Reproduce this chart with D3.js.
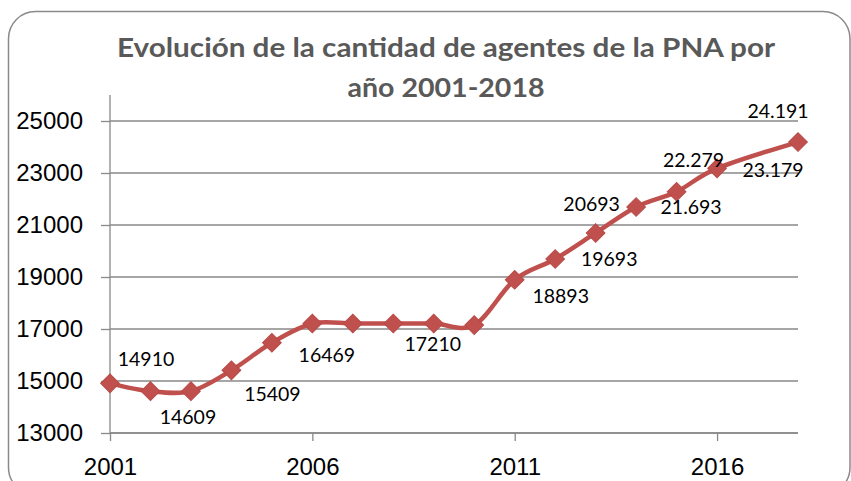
<!DOCTYPE html>
<html>
<head>
<meta charset="utf-8">
<script src="https://cdn.jsdelivr.net/npm/d3@7"></script>
<style>
  body { margin: 0; background: #fff; }
  svg { display: block; font-family: Lato, "Open Sans", sans-serif; }
</style>
</head>
<body>
<div id="line-chart"></div>
<script>
const years = [2001, 2002, 2003, 2004, 2005, 2006, 2007, 2008, 2009, 2010, 2011, 2012, 2013, 2014, 2015, 2016, 2018]
const agentes = [14910, 14609, 14609, 15409, 16469, 17210, 17210, 17210, 17210, 17150, 18893, 19693, 20693, 21693, 22279, 23179, 24191]

// etiquetas de datos (tal como aparecen en el grafico original)
const labelYears = [2001, 2003, 2004, 2005, 2009, 2011, 2012, 2013, 2014, 2015, 2016, 2018]
const labelTexts = ["14910", "14609", "15409", "16469", "17210", "18893", "19693", "20693", "21.693", "22.279", "23.179", "24.191"]

const yTicks = [13000, 15000, 17000, 19000, 21000, 23000, 25000]
const xTicks = [2001, 2006, 2011, 2016]
const titleLines = ["Evolución de la cantidad de agentes de la PNA por", "año 2001-2018"]

// posicion de cada etiqueta respecto a su punto (layout, en px)
const labelDx = [36, -3, 41, 55, -1, 46, 54, -4, 55, 17, 56, -20]
const labelDy = [-17, 33, 31, 19, 27, 23, 7, -22, 7, -25, 9, -24]

const W = 851, H = 481
const margin = {top: 95, right: 53, bottom: 48, left: 110},
    width = W - margin.left - margin.right,
    height = H - margin.top - margin.bottom;

const root = d3.select("#line-chart")
    .append("svg")
    .attr("width", W)
    .attr("height", H)

// marco redondeado del grafico
root.append("rect")
    .attr("x", 8.5).attr("y", 11.5)
    .attr("width", 841.5).attr("height", 483)
    .attr("rx", 27).attr("ry", 27)
    .attr("fill", "#fff")
    .attr("stroke", "#8a8a8a")
    .attr("stroke-width", 1.5)

// titulo
root.selectAll("text.title")
    .data(titleLines)
    .enter().append("text")
    .attr("class", "title")
    .attr("x", 446)
    .attr("y", (d, i) => 57 + i * 40)
    .attr("text-anchor", "middle")
    .attr("textLength", (d, i) => i == 0 ? 658 : 197)
    .attr("lengthAdjust", "spacingAndGlyphs")
    .style("font-size", "26.5px")
    .style("font-weight", "bold")
    .style("fill", "#595959")
    .text(d => d)

const svg = root.append("g")
    .attr("transform", `translate(${margin.left}, ${margin.top})`);

var x = d3.scaleLinear()
    .domain([2001, 2018])
    .range([0, width])

var y = d3.scaleLinear()
    .domain([13000, 26000])
    .range([height, 0])

// gridlines
svg.append("g")
    .selectAll("line")
    .data(yTicks)
    .enter().append("line")
    .attr("x1", 0).attr("x2", width)
    .attr("y1", d => y(d)).attr("y2", d => y(d))
    .attr("stroke", "#898989")
    .attr("stroke-width", 1.3)

// Y axis
var yAxis = svg.append("g")
    .call(d3.axisLeft(y).tickValues(yTicks).tickSize(9).tickPadding(18).tickFormat(d3.format("d")))
yAxis.selectAll("text")
    .style("font-size", "24px")
    .style("fill", "#000")
yAxis.selectAll("line, path").attr("stroke", "#898989").attr("stroke-width", 1.3)
yAxis.select("path").attr("d", `M0,${height}V0`)

// X axis
var xAxis = svg.append("g")
    .attr("transform", "translate(0," + height + ")")
    .call(d3.axisBottom(x).tickValues(xTicks).tickSize(8).tickPadding(17).tickFormat(d3.format("d")))
xAxis.selectAll("text")
    .style("font-size", "24px")
    .style("fill", "#000")
xAxis.selectAll("line, path").attr("stroke", "#898989").attr("stroke-width", 1.3)
xAxis.select("path").attr("d", `M0,0H${width}`)

const points = years.map((d, i) => ({year: d, value: agentes[i]}))

// linea suavizada
var line = d3.line()
    .x(d => x(d.year))
    .y(d => y(d.value))
    .curve(d3.curveCatmullRom.alpha(0))

svg.append("path")
    .datum(points)
    .attr("fill", "none")
    .attr("stroke", "#C0504D")
    .attr("stroke-width", 4.5)
    .attr("stroke-linejoin", "round")
    .attr("d", line)

// marcadores rombo
svg.append("g")
    .selectAll("path")
    .data(points)
    .enter().append("path")
    .attr("d", d3.symbol(d3.symbolSquare, 175))
    .attr("transform", d => `translate(${x(d.year)},${y(d.value)}) rotate(45)`)
    .attr("fill", "#C0504D")
    .attr("stroke", "#B84A47")
    .attr("stroke-width", 1)

// etiquetas de datos
svg.append("g")
    .selectAll("text")
    .data(labelTexts)
    .enter().append("text")
    .attr("x", (d, i) => x(labelYears[i]) + labelDx[i])
    .attr("y", (d, i) => y(agentes[years.indexOf(labelYears[i])]) + labelDy[i])
    .attr("text-anchor", "middle")
    .style("font-size", "19.5px")
    .style("fill", "#000")
    .text(d => d)
</script>
</body>
</html>
